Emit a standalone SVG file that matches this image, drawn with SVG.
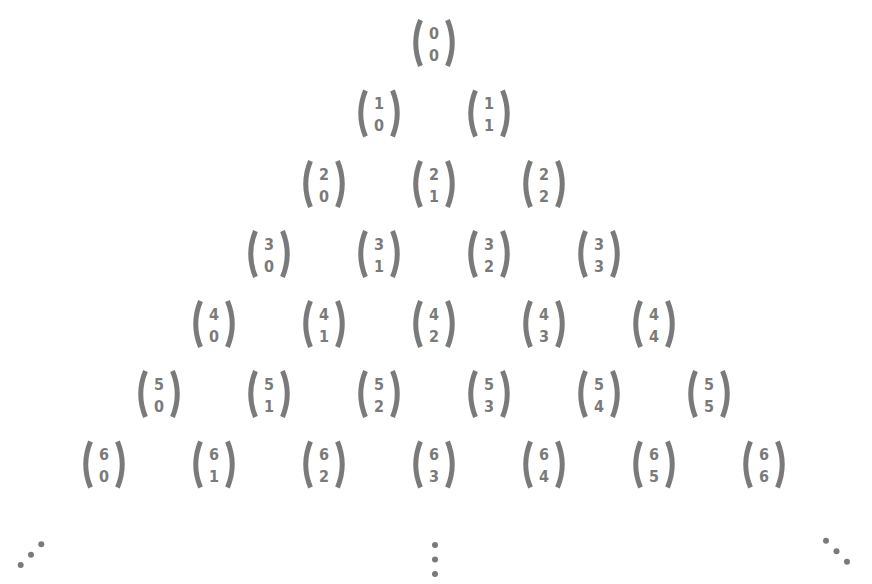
<svg xmlns="http://www.w3.org/2000/svg" xmlns:xlink="http://www.w3.org/1999/xlink" width="872" height="584" viewBox="0 0 872 584">
<style>
.d{font-family:"DejaVu Sans Condensed","DejaVu Sans",sans-serif;font-weight:bold;font-size:16px;fill:#7a7a7a;text-anchor:middle}
.p{fill:none;stroke:#7a7a7a;stroke-width:5;stroke-linecap:butt}
.dot{fill:#7a7a7a}
</style>
<defs>
<g id="par"><path class="p" d="M-13.5 -23 Q-23 0 -13.5 23"/><path class="p" d="M13.5 -23 Q23 0 13.5 23"/></g>
</defs>
<rect width="872" height="584" fill="#fff"/>
<g id="n0-0" transform="translate(434,43)"><use xlink:href="#par"/><text class="d" y="-4.5">0</text><text class="d" y="17.5">0</text></g>
<g id="n1-0" transform="translate(379,113.5)"><use xlink:href="#par"/><text class="d" y="-4.5">1</text><text class="d" y="17.5">0</text></g>
<g id="n1-1" transform="translate(489,113.5)"><use xlink:href="#par"/><text class="d" y="-4.5">1</text><text class="d" y="17.5">1</text></g>
<g id="n2-0" transform="translate(324,184)"><use xlink:href="#par"/><text class="d" y="-4.5">2</text><text class="d" y="17.5">0</text></g>
<g id="n2-1" transform="translate(434,184)"><use xlink:href="#par"/><text class="d" y="-4.5">2</text><text class="d" y="17.5">1</text></g>
<g id="n2-2" transform="translate(544,184)"><use xlink:href="#par"/><text class="d" y="-4.5">2</text><text class="d" y="17.5">2</text></g>
<g id="n3-0" transform="translate(269,254)"><use xlink:href="#par"/><text class="d" y="-4.5">3</text><text class="d" y="17.5">0</text></g>
<g id="n3-1" transform="translate(379,254)"><use xlink:href="#par"/><text class="d" y="-4.5">3</text><text class="d" y="17.5">1</text></g>
<g id="n3-2" transform="translate(489,254)"><use xlink:href="#par"/><text class="d" y="-4.5">3</text><text class="d" y="17.5">2</text></g>
<g id="n3-3" transform="translate(599,254)"><use xlink:href="#par"/><text class="d" y="-4.5">3</text><text class="d" y="17.5">3</text></g>
<g id="n4-0" transform="translate(214,324)"><use xlink:href="#par"/><text class="d" y="-4.5">4</text><text class="d" y="17.5">0</text></g>
<g id="n4-1" transform="translate(324,324)"><use xlink:href="#par"/><text class="d" y="-4.5">4</text><text class="d" y="17.5">1</text></g>
<g id="n4-2" transform="translate(434,324)"><use xlink:href="#par"/><text class="d" y="-4.5">4</text><text class="d" y="17.5">2</text></g>
<g id="n4-3" transform="translate(544,324)"><use xlink:href="#par"/><text class="d" y="-4.5">4</text><text class="d" y="17.5">3</text></g>
<g id="n4-4" transform="translate(654,324)"><use xlink:href="#par"/><text class="d" y="-4.5">4</text><text class="d" y="17.5">4</text></g>
<g id="n5-0" transform="translate(159,394)"><use xlink:href="#par"/><text class="d" y="-4.5">5</text><text class="d" y="17.5">0</text></g>
<g id="n5-1" transform="translate(269,394)"><use xlink:href="#par"/><text class="d" y="-4.5">5</text><text class="d" y="17.5">1</text></g>
<g id="n5-2" transform="translate(379,394)"><use xlink:href="#par"/><text class="d" y="-4.5">5</text><text class="d" y="17.5">2</text></g>
<g id="n5-3" transform="translate(489,394)"><use xlink:href="#par"/><text class="d" y="-4.5">5</text><text class="d" y="17.5">3</text></g>
<g id="n5-4" transform="translate(599,394)"><use xlink:href="#par"/><text class="d" y="-4.5">5</text><text class="d" y="17.5">4</text></g>
<g id="n5-5" transform="translate(709,394)"><use xlink:href="#par"/><text class="d" y="-4.5">5</text><text class="d" y="17.5">5</text></g>
<g id="n6-0" transform="translate(104,464.5)"><use xlink:href="#par"/><text class="d" y="-4.5">6</text><text class="d" y="17.5">0</text></g>
<g id="n6-1" transform="translate(214,464.5)"><use xlink:href="#par"/><text class="d" y="-4.5">6</text><text class="d" y="17.5">1</text></g>
<g id="n6-2" transform="translate(324,464.5)"><use xlink:href="#par"/><text class="d" y="-4.5">6</text><text class="d" y="17.5">2</text></g>
<g id="n6-3" transform="translate(434,464.5)"><use xlink:href="#par"/><text class="d" y="-4.5">6</text><text class="d" y="17.5">3</text></g>
<g id="n6-4" transform="translate(544,464.5)"><use xlink:href="#par"/><text class="d" y="-4.5">6</text><text class="d" y="17.5">4</text></g>
<g id="n6-5" transform="translate(654,464.5)"><use xlink:href="#par"/><text class="d" y="-4.5">6</text><text class="d" y="17.5">5</text></g>
<g id="n6-6" transform="translate(764,464.5)"><use xlink:href="#par"/><text class="d" y="-4.5">6</text><text class="d" y="17.5">6</text></g>
<g id="ellipses">
<circle class="dot" cx="20.7" cy="565" r="3"/><circle class="dot" cx="31" cy="554.7" r="3"/><circle class="dot" cx="41.3" cy="544.3" r="3"/>
<circle class="dot" cx="435" cy="545" r="3"/><circle class="dot" cx="435" cy="559.5" r="3"/><circle class="dot" cx="435" cy="574" r="3"/>
<circle class="dot" cx="826" cy="540.7" r="3"/><circle class="dot" cx="836.5" cy="551.2" r="3"/><circle class="dot" cx="847" cy="561.7" r="3"/>
</g>
</svg>
